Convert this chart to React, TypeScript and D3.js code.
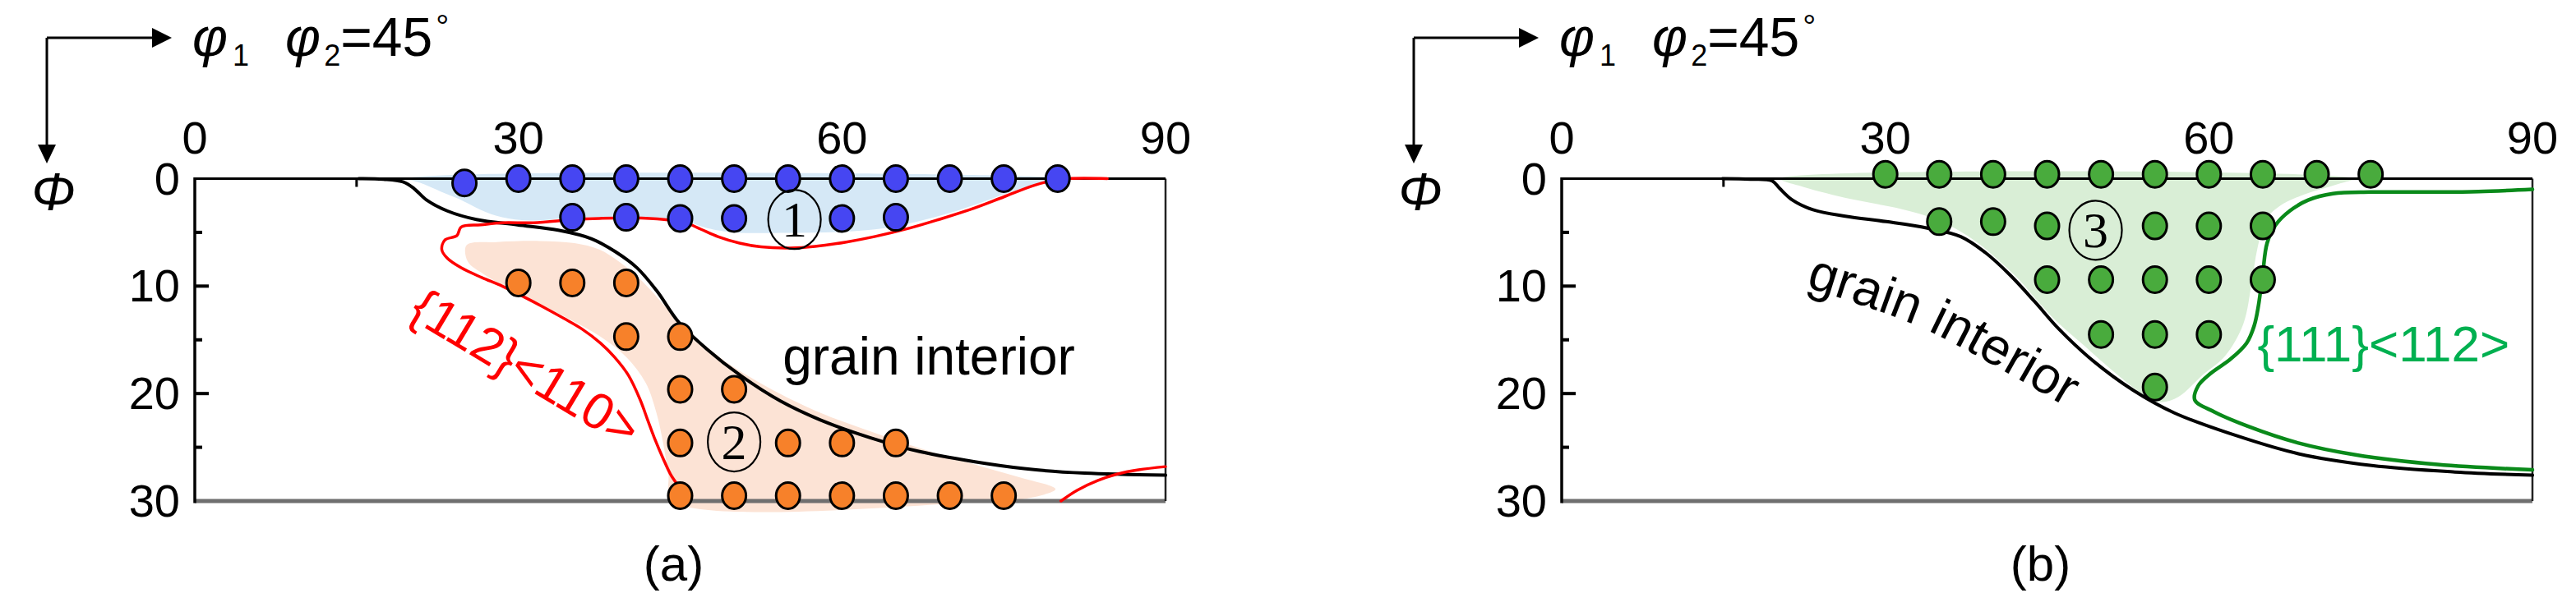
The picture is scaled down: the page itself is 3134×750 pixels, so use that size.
import React from "react";
import * as d3 from "d3";

type P = [number, number];

const W = 3134;
const H = 750;

// axis ticks
const xTickValues = [0, 30, 60, 90];
const xTickLabels = ["0", "30", "60", "90"];
const yTickValues = [0, 10, 20, 30];
const yTickLabels = ["0", "10", "20", "30"];
const yMinorTicks = [5, 15, 25];
const xMinorTicks = [15, 45, 75];

// ---------- panel (a) ----------
const blueDots: P[] = [
  [25, 0.4], [30, 0], [35, 0], [40, 0], [45, 0], [50, 0], [55, 0], [60, 0], [65, 0], [70, 0], [75, 0], [80, 0],
  [35, 3.6], [40, 3.6], [45, 3.7], [50, 3.7], [60, 3.7], [65, 3.6],
];
const orangeDots: P[] = [
  [30, 9.7], [35, 9.7], [40, 9.7],
  [40, 14.7], [45, 14.7],
  [45, 19.6], [50, 19.6],
  [45, 24.6], [55, 24.6], [60, 24.6], [65, 24.6],
  [45, 29.5], [50, 29.5], [55, 29.5], [60, 29.5], [65, 29.5], [70, 29.5], [75, 29.5],
];
const blueFill: P[] = [
  [19.8, 0], [81, 0], [78.5, 0.4], [75.5, 1.3], [73, 2.2], [70, 3.2], [67, 4.0], [64, 4.6], [60, 4.95], [55, 5.05],
  [50, 5.0], [47.5, 4.6], [45.5, 4.0], [43.5, 3.7], [40, 3.55], [35, 3.65], [31, 3.9], [28.5, 3.6], [26.5, 2.9],
  [24.5, 1.9], [22.8, 1.2], [21.2, 0.5],
];
const orangeFill: P[] = [
  [25.2, 6.2], [28, 5.9], [32, 5.8], [35.2, 6.0], [37.5, 6.6], [39.3, 7.7], [40.8, 8.9], [42.2, 10.3], [43.7, 12.0],
  [45.4, 13.8], [47.4, 15.6], [49.6, 17.3], [52.2, 18.9], [55, 20.4], [58.5, 22.0], [62, 23.3], [65.7, 24.6],
  [69.5, 25.8], [73, 26.8], [76.5, 27.8], [79.8, 28.9], [77.5, 29.7], [74, 30], [44.3, 30], [43.9, 27.5],
  [43.4, 24.5], [42.8, 21.8], [41.8, 19.0], [40.0, 16.6], [37.6, 14.7], [34.8, 13.1], [31.8, 11.6], [29.0, 10.2],
  [26.8, 8.9], [25.3, 7.7],
];
const blackCurveA: P[] = [
  [15.2, 0], [17.5, 0.05], [19.3, 0.3], [20.3, 0.9], [21.5, 2.0], [23.4, 3.0], [26.1, 3.8], [29.9, 4.3],
  [33.7, 4.8], [36.8, 5.6], [39, 6.8], [41, 8.3], [42.8, 10.4], [44.9, 13.4], [47.4, 15.8], [50.7, 18.4],
  [54.3, 20.7], [58.1, 22.5], [62.6, 24.1], [67.2, 25.4], [73.3, 26.5], [78, 27.1], [82.5, 27.4], [90, 27.6],
];
const redCurveA: P[] = [
  [84.6, 0], [80.3, 0.05], [77.9, 0.6], [75, 1.7], [72.1, 2.8], [69, 3.8], [66.3, 4.6], [63, 5.4], [60.4, 5.9],
  [57.5, 6.3], [55.2, 6.45], [52.5, 6.35], [50.5, 6.0], [48.5, 5.4], [46.9, 4.7], [45.5, 4.1], [43.5, 3.8],
  [40.6, 3.65], [37.5, 3.7], [35.2, 3.8], [31.4, 4.1], [28.5, 4.1], [26.5, 4.3], [24.7, 4.5], [24.3, 5.3],
  [23.2, 5.7], [22.9, 6.6], [23.4, 7.4], [24.7, 8.3], [26.6, 9.2], [28.5, 10.0], [30.5, 11.0], [32.4, 12.0],
  [34.2, 13.0], [35.9, 14.0], [37.6, 15.3], [38.9, 16.6], [40.2, 18.3], [41.3, 20.6], [42.0, 22.5],
  [42.6, 24.1], [43.4, 26.0], [44.1, 27.5], [44.7, 28.4],
];
const redCornerA: P[] = [[80.3, 30], [81.8, 29.0], [83.7, 28.1], [85.5, 27.5], [87.5, 27.1], [90, 26.8]];

// ---------- panel (b) ----------
const greenDots: P[] = [
  [30, -0.4], [35, -0.4], [40, -0.4], [45, -0.4], [50, -0.4], [55, -0.4], [60, -0.4], [65, -0.4], [70, -0.4], [75, -0.4],
  [35, 4.0], [40, 4.0], [45, 4.4], [55, 4.4], [60, 4.4], [65, 4.4],
  [45, 9.4], [50, 9.4], [55, 9.4], [60, 9.4], [65, 9.4],
  [50, 14.5], [55, 14.5], [60, 14.5],
  [55, 19.4],
];
const greenFill: P[] = [
  [20.2, 0], [73.5, 0], [72, 0.5], [68.5, 1.6], [66.5, 2.6], [65.3, 3.8], [64.5, 6.5], [64.0, 9.5], [63.2, 13.5],
  [61.5, 16.5], [59.5, 18.2], [57.2, 20.3], [55.5, 20.8], [53.8, 20.0], [51, 17.8], [48.5, 15.6], [46, 13.4],
  [44.3, 11.6], [42.4, 9.4], [40.4, 7.5], [38.6, 6.0], [36.6, 4.7], [34.5, 3.7], [31.4, 2.8], [26.8, 1.9], [22.5, 0.8],
];
const blackCurveB: P[] = [
  [14.9, 0], [17.5, 0.05], [19.5, 0.2], [20.2, 0.9], [21.4, 2.0], [23.3, 2.9], [26.3, 3.5], [30.1, 4.0],
  [33.9, 4.6], [37, 5.4], [39.3, 6.9], [41.6, 9.0], [43.9, 11.5], [46.1, 14.0], [49.2, 16.9], [53, 19.7],
  [56.8, 21.8], [62.5, 23.9], [68.3, 25.6], [75.1, 26.7], [82.8, 27.3], [90, 27.6],
];
const greenCurveB: P[] = [
  [90, 1.0], [85, 1.2], [81.2, 1.25], [75, 1.25], [71.5, 1.4], [69.2, 2.0], [67.5, 3.0], [66.2, 4.3], [65.4, 6.0],
  [65.0, 8.8], [64.6, 11.8], [64.2, 13.7], [63.5, 15.3], [62.0, 16.8], [60.2, 18.1], [59.0, 19.3], [58.7, 20.6],
  [60.5, 21.7], [63.5, 23.0], [68.3, 24.6], [73.6, 25.7], [81.2, 26.6], [90, 27.1],
];
const grainTextPathB: P[] = [[22.6, 10.1], [33.4, 13.9], [48.2, 22.1]];

// annotations (data coordinates)
const circledA = [
  { label: "1", at: [55.6, 3.8] as P },
  { label: "2", at: [50, 24.5] as P },
];
const circledB = [{ label: "3", at: [49.5, 4.8] as P }];

const FONT = "'Liberation Sans', Arial, Helvetica, sans-serif";
const SERIF = "'Liberation Serif', 'Times New Roman', serif";

const FRAME_W = 1181;
const FRAME_TOP = 217.5;
const FRAME_BOTTOM = 610;

function Panel(props: {
  id: string;
  left: number;
  fills: { pts: P[]; color: string }[];
  curves: { pts: P[]; color: string; width: number }[];
  dots: { pts: P[]; color: string }[];
  circled: { label: string; at: P }[];
  extra: (x: d3.ScaleLinear<number, number>, y: d3.ScaleLinear<number, number>) => React.ReactNode;
  caption: string;
}) {
  const { left } = props;
  const x = d3.scaleLinear().domain([0, 90]).range([left, left + FRAME_W]);
  const y = d3.scaleLinear().domain([0, 30]).range([FRAME_TOP, FRAME_BOTTOM]);
  const lineGen = d3
    .line<P>()
    .x((d) => x(d[0]))
    .y((d) => y(d[1]))
    .curve(d3.curveCatmullRom.alpha(0.5));
  const fillGen = d3
    .line<P>()
    .x((d) => x(d[0]))
    .y((d) => y(d[1]))
    .curve(d3.curveCatmullRomClosed.alpha(0.5));
  const right = left + FRAME_W;
  const cx = left - 180;
  return (
    <g>
      {/* header arrows */}
      <line x1={cx} y1={46} x2={left - 48} y2={46} stroke="#000" strokeWidth={3} />
      <polygon points={`${left - 28},46 ${left - 52},34 ${left - 52},58`} fill="#000" />
      <line x1={cx} y1={46} x2={cx} y2={180} stroke="#000" strokeWidth={3} />
      <polygon points={`${cx},199 ${cx - 11},176 ${cx + 11},176`} fill="#000" />
      <text x={left - 3} y={68} fontFamily={FONT} fontSize={66} fill="#000">
        <tspan fontStyle="italic">φ</tspan>
        <tspan fontSize={36} dy={12} dx={6}>1</tspan>
        <tspan dy={-12} dx={44} fontStyle="italic">φ</tspan>
        <tspan fontSize={36} dy={12} dx={4}>2</tspan>
        <tspan dy={-12}>=45</tspan>
        <tspan fontSize={40} dy={-22} dx={4}>°</tspan>
      </text>
      <text x={cx + 8} y={256} fontFamily={FONT} fontSize={64} fontStyle="italic" textAnchor="middle" fill="#000">
        Φ
      </text>

      {/* fills */}
      {props.fills.map((f, i) => (
        <path key={i} d={fillGen(f.pts) || ""} fill={f.color} stroke="none" />
      ))}

      {/* frame */}
      <line x1={left} y1={FRAME_BOTTOM} x2={right} y2={FRAME_BOTTOM} stroke="#6f6f6f" strokeWidth={5} />
      <line x1={right} y1={FRAME_TOP} x2={right} y2={FRAME_BOTTOM} stroke="#222" strokeWidth={2.5} />
      <line x1={left} y1={FRAME_TOP} x2={right} y2={FRAME_TOP} stroke="#000" strokeWidth={3} />
      <line x1={left} y1={FRAME_TOP - 1.5} x2={left} y2={FRAME_BOTTOM + 2.5} stroke="#000" strokeWidth={3.5} />
      {yTickValues.slice(1, 3).map((v) => (
        <line key={v} x1={left} y1={y(v)} x2={left + 17} y2={y(v)} stroke="#000" strokeWidth={4} />
      ))}
      {yMinorTicks.map((v) => (
        <line key={v} x1={left} y1={y(v)} x2={left + 9} y2={y(v)} stroke="#000" strokeWidth={4} />
      ))}
      {xMinorTicks.map((v) => (
        <line key={v} x1={x(v)} y1={FRAME_TOP} x2={x(v)} y2={FRAME_TOP + 10} stroke="#000" strokeWidth={3} />
      ))}
      {xTickValues.map((v, i) => (
        <text key={v} x={x(v)} y={187} fontFamily={FONT} fontSize={56} textAnchor="middle" fill="#000">
          {xTickLabels[i]}
        </text>
      ))}
      {yTickValues.map((v, i) => (
        <text key={v} x={left - 18} y={y(v) + 19} fontFamily={FONT} fontSize={56} textAnchor="end" fill="#000">
          {yTickLabels[i]}
        </text>
      ))}

      {/* curves */}
      {props.curves.map((c, i) => (
        <path
          key={i}
          d={lineGen(c.pts) || ""}
          fill="none"
          stroke={c.color}
          strokeWidth={c.width}
          strokeLinejoin="round"
          strokeLinecap="round"
        />
      ))}

      {/* dots */}
      {props.dots.map((g, gi) =>
        g.pts.map((d, i) => (
          <ellipse
            key={`${gi}-${i}`}
            cx={x(d[0])}
            cy={y(d[1])}
            rx={14.5}
            ry={16}
            fill={g.color}
            stroke="#000"
            strokeWidth={3}
          />
        ))
      )}

      {/* circled numbers */}
      {props.circled.map((c) => (
        <g key={c.label}>
          <ellipse cx={x(c.at[0])} cy={y(c.at[1])} rx={32} ry={36} fill="none" stroke="#000" strokeWidth={2.2} />
          <text
            x={x(c.at[0])}
            y={y(c.at[1]) + 21}
            fontFamily={SERIF}
            fontSize={62}
            textAnchor="middle"
            fill="#000"
          >
            {c.label}
          </text>
        </g>
      ))}

      {props.extra(x, y)}

      <text x={(left + right) / 2 - 8} y={707} fontFamily={FONT} fontSize={60} textAnchor="middle" fill="#000">
        {props.caption}
      </text>
    </g>
  );
}

export default function App() {
  return (
    <div style={{ position: "absolute", left: 0, top: 0, width: W, height: H, background: "#fff" }}>
      <svg width={W} height={H} viewBox={`0 0 ${W} ${H}`} style={{ display: "block" }}>
        <rect x={0} y={0} width={W} height={H} fill="#fff" />
        <Panel
          id="a"
          left={237}
          fills={[
            { pts: blueFill, color: "#d5e8f6" },
            { pts: orangeFill, color: "#fce3d5" },
          ]}
          curves={[
            { pts: blackCurveA, color: "#000", width: 4 },
            { pts: redCurveA, color: "#ff0000", width: 3.5 },
            { pts: redCornerA, color: "#ff0000", width: 3.5 },
          ]}
          dots={[
            { pts: blueDots, color: "#4646f2" },
            { pts: orangeDots, color: "#f7812a" },
          ]}
          circled={circledA}
          caption="(a)"
          extra={(x, y) => (
            <g>
              <text x={x(54.5)} y={y(18.2)} fontFamily={FONT} fontSize={64} fill="#000">
                grain interior
              </text>
              <text
                x={x(30.7)}
                y={y(17.6)}
                fontFamily={FONT}
                fontSize={62}
                fill="#ff0000"
                textAnchor="middle"
                dominantBaseline="central"
                transform={`rotate(31 ${x(30.7)} ${y(17.6)})`}
              >
                {"{112}<110>"}
              </text>
            </g>
          )}
        />
        <Panel
          id="b"
          left={1900}
          fills={[{ pts: greenFill, color: "#d9eed6" }]}
          curves={[
            { pts: blackCurveB, color: "#000", width: 4 },
            { pts: greenCurveB, color: "#0a8a1a", width: 4.5 },
          ]}
          dots={[{ pts: greenDots, color: "#49ab3d" }]}
          circled={circledB}
          caption="(b)"
          extra={(x, y) => {
            const p = d3
              .line<P>()
              .x((d) => x(d[0]))
              .y((d) => y(d[1]))
              .curve(d3.curveCatmullRom.alpha(0.5))(grainTextPathB);
            return (
              <g>
                <defs>
                  <path id="grainPathB" d={p || ""} />
                </defs>
                <text fontFamily={FONT} fontSize={63} fill="#000">
                  <textPath href="#grainPathB">grain interior</textPath>
                </text>
                <text x={x(64.5)} y={y(17.0)} fontFamily={FONT} fontSize={62} fill="#00b050">
                  {"{111}<112>"}
                </text>
              </g>
            );
          }}
        />
      </svg>
    </div>
  );
}
